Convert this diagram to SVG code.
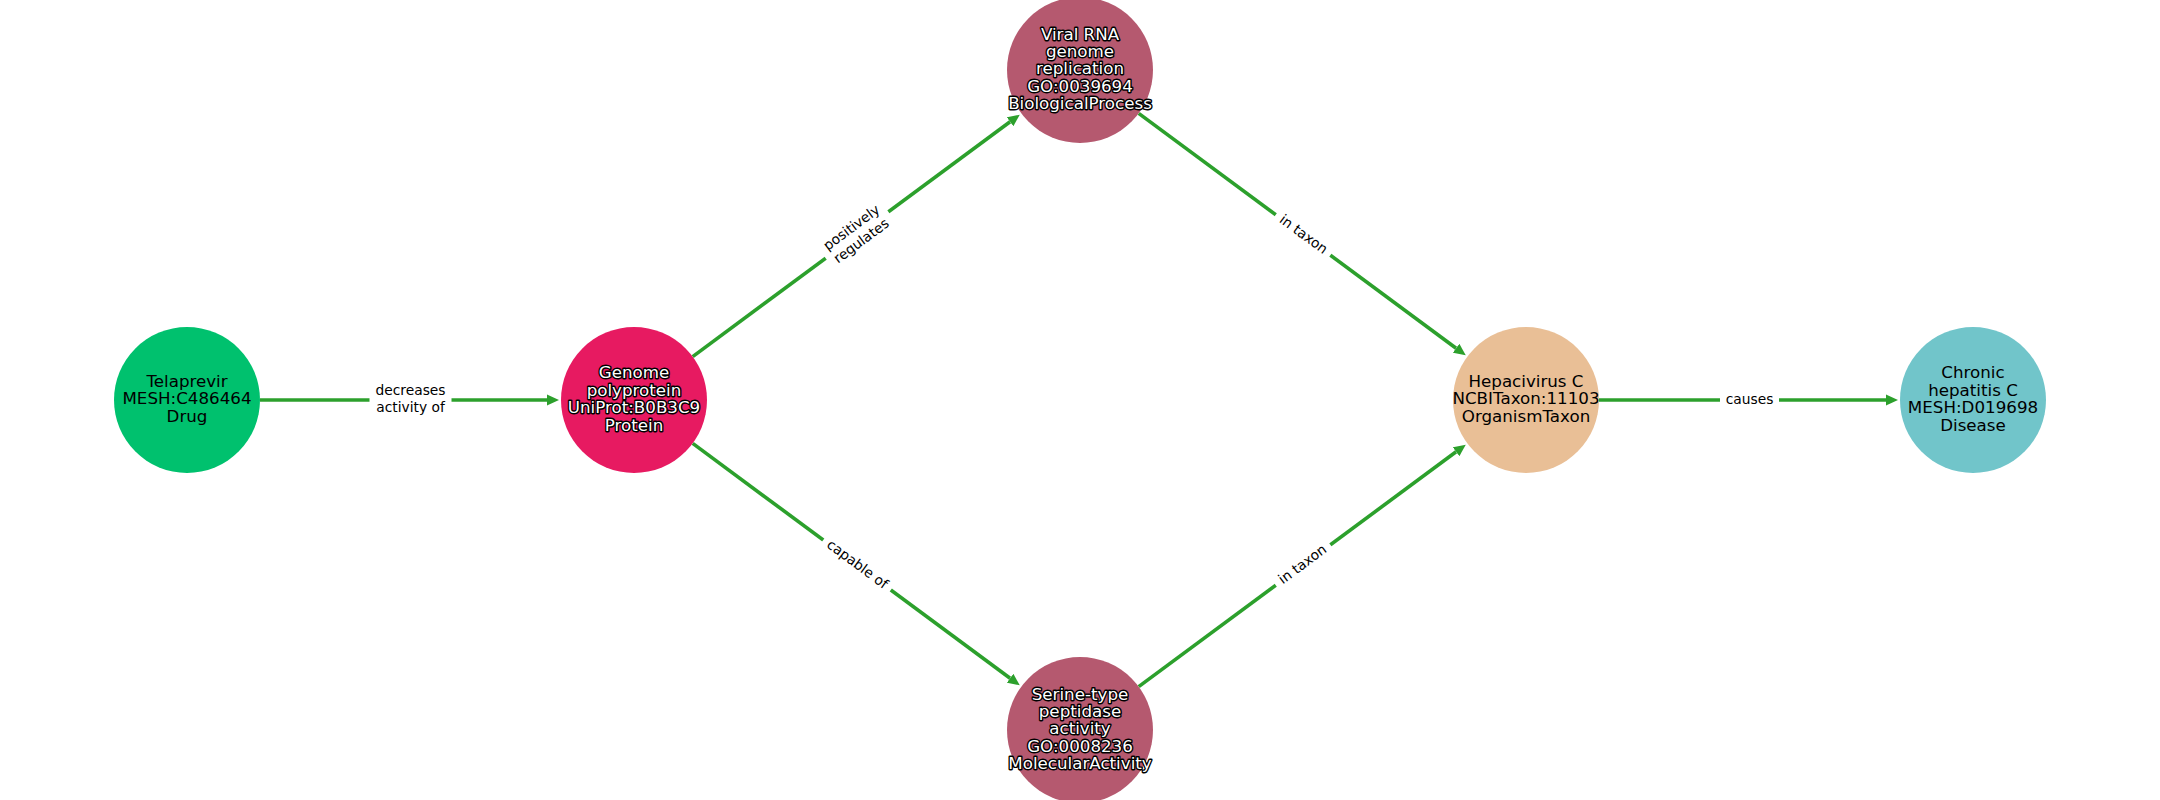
<svg xmlns="http://www.w3.org/2000/svg" width="2160" height="800" viewBox="0 0 2160 800">
<style>
.bg{fill:#ffffff}
.edge{stroke:#2ca02c;stroke-width:3.6;fill:none;marker-end:url(#arrow)}
.lbox{fill:#ffffff;stroke:none}
.elabel{font-family:"DejaVu Sans","Liberation Sans",sans-serif;font-size:13.8px;fill:#000000;text-anchor:middle}
.nlabel{font-family:"DejaVu Sans","Liberation Sans",sans-serif;font-size:16.7px;fill:#000000;text-anchor:middle}
.olabel{font-family:"DejaVu Sans","Liberation Sans",sans-serif;font-size:16.7px;fill:#ffffff;stroke:#000000;stroke-width:2.8;stroke-linejoin:round;paint-order:stroke;text-anchor:middle}
</style>
<defs>
<marker id="arrow" markerUnits="userSpaceOnUse" markerWidth="13" markerHeight="12" refX="0" refY="5.5" orient="auto" viewBox="0 0 13 11">
<path d="M0,0 L12,5.5 L0,11 z" fill="#2ca02c"/>
</marker>
</defs>
<rect class="bg" x="0" y="0" width="2160" height="800"/>
<g id="edges">
<line class="edge" x1="260" y1="400" x2="547" y2="400"/>
<line class="edge" x1="692.7" y1="356.6" x2="1010.1" y2="121.8"/>
<line class="edge" x1="692.7" y1="443.4" x2="1010.1" y2="678.2"/>
<line class="edge" x1="1138.7" y1="113.4" x2="1456.1" y2="348.2"/>
<line class="edge" x1="1138.7" y1="686.6" x2="1456.1" y2="451.8"/>
<line class="edge" x1="1599" y1="400" x2="1886" y2="400"/>
<g id="label-decreases">
<rect class="lbox" x="369.5" y="381" width="82" height="38"/>
<text class="elabel" x="410.5" y="395.3">decreases</text>
<text class="elabel" x="410.5" y="411.8">activity of</text>
</g>
<g id="label-positively" transform="translate(857,235) rotate(-36.5)">
<rect class="lbox" x="-39" y="-19" width="78" height="38"/>
<text class="elabel" x="0" y="-4.6">positively</text>
<text class="elabel" x="0" y="11.9">regulates</text>
</g>
<g id="label-capable" transform="translate(857,565) rotate(36.5)">
<rect class="lbox" x="-42" y="-11" width="84" height="22"/>
<text class="elabel" x="0" y="3.7">capable of</text>
</g>
<g id="label-intaxon1" transform="translate(1303,235) rotate(36.5)">
<rect class="lbox" x="-34" y="-11" width="68" height="22"/>
<text class="elabel" x="0" y="3.7">in taxon</text>
</g>
<g id="label-intaxon2" transform="translate(1303,565) rotate(-36.5)">
<rect class="lbox" x="-34" y="-11" width="68" height="22"/>
<text class="elabel" x="0" y="3.7">in taxon</text>
</g>
<g id="label-causes">
<rect class="lbox" x="1720" y="389" width="59" height="22"/>
<text class="elabel" x="1749.5" y="403.7">causes</text>
</g>
</g>
<g id="node-telaprevir">
<circle cx="187" cy="400" r="73" fill="#00c16e"/>
<text class="nlabel" x="187" y="387">Telaprevir</text>
<text class="nlabel" x="187" y="404.4">MESH:C486464</text>
<text class="nlabel" x="187" y="421.8">Drug</text>
</g>
<g id="node-genome">
<circle cx="634" cy="400" r="73" fill="#e71a61"/>
<text class="olabel" x="634" y="378.3">Genome</text>
<text class="olabel" x="634" y="395.7">polyprotein</text>
<text class="olabel" x="634" y="413.1">UniProt:B0B3C9</text>
<text class="olabel" x="634" y="430.5">Protein</text>
</g>
<g id="node-viralrna">
<circle cx="1080" cy="70" r="73" fill="#b5596f"/>
<text class="olabel" x="1080" y="39.6">Viral RNA</text>
<text class="olabel" x="1080" y="57">genome</text>
<text class="olabel" x="1080" y="74.4">replication</text>
<text class="olabel" x="1080" y="91.8">GO:0039694</text>
<text class="olabel" x="1080" y="109.2">BiologicalProcess</text>
</g>
<g id="node-serine">
<circle cx="1080" cy="730" r="73" fill="#b5596f"/>
<text class="olabel" x="1080" y="699.6">Serine-type</text>
<text class="olabel" x="1080" y="717">peptidase</text>
<text class="olabel" x="1080" y="734.4">activity</text>
<text class="olabel" x="1080" y="751.8">GO:0008236</text>
<text class="olabel" x="1080" y="769.2">MolecularActivity</text>
</g>
<g id="node-hepacivirus">
<circle cx="1526" cy="400" r="73" fill="#e9bf96"/>
<text class="nlabel" x="1526" y="387">Hepacivirus C</text>
<text class="nlabel" x="1526" y="404.4">NCBITaxon:11103</text>
<text class="nlabel" x="1526" y="421.8">OrganismTaxon</text>
</g>
<g id="node-chronic">
<circle cx="1973" cy="400" r="73" fill="#71c5ca"/>
<text class="nlabel" x="1973" y="378.3">Chronic</text>
<text class="nlabel" x="1973" y="395.7">hepatitis C</text>
<text class="nlabel" x="1973" y="413.1">MESH:D019698</text>
<text class="nlabel" x="1973" y="430.5">Disease</text>
</g>
</svg>
